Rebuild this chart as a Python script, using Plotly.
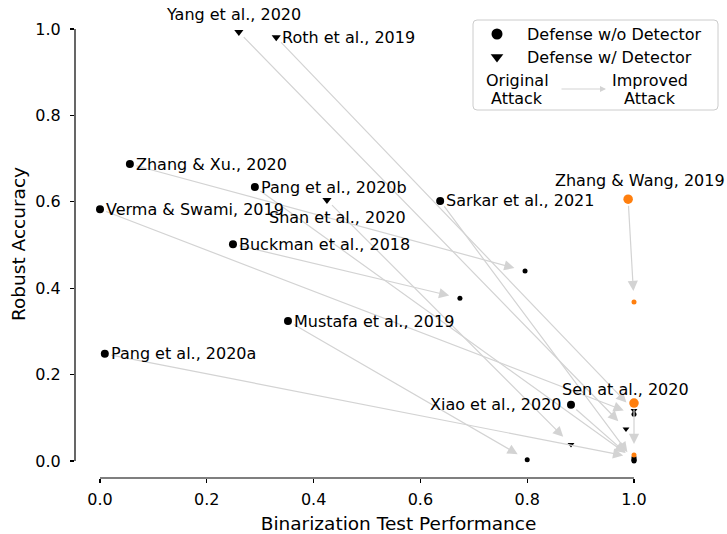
import plotly.graph_objects as go

# ---------------- data ----------------
names = ["Yang et al., 2020", "Roth et al., 2019", "Zhang & Xu., 2020", "Pang et al., 2020b",
         "Verma & Swami, 2019", "Shan et al., 2020", "Sarkar et al., 2021", "Zhang & Wang, 2019",
         "Buckman et al., 2018", "Mustafa et al., 2019", "Pang et al., 2020a", "Xiao et al., 2020",
         "Sen at al., 2020"]
orig_x = [0.260, 0.330, 0.056, 0.290, 0.000, 0.425, 0.637, 0.989, 0.249, 0.352, 0.009, 0.882, 1.000]
orig_y = [0.993, 0.981, 0.6875, 0.634, 0.583, 0.604, 0.602, 0.606, 0.502, 0.324, 0.248, 0.130, 0.134]
imp_x = [0.985, 1.000, 0.796, 1.000, 1.000, 0.882, 1.000, 1.000, 0.674, 0.800, 1.000, 1.000, 1.000]
imp_y = [0.074, 0.117, 0.440, 0.004, 0.108, 0.038, 0.000, 0.368, 0.377, 0.003, 0.008, 0.002, 0.014]
has_detector = [True, True, False, False, False, True, False, False, False, False, False, False, False]
highlight = [False, False, False, False, False, False, False, True, False, False, False, False, True]
tick_vals = [0.0, 0.2, 0.4, 0.6, 0.8, 1.0]
tick_text = ["0.0", "0.2", "0.4", "0.6", "0.8", "1.0"]

# label placement (xanchor, xshift, yshift, yanchor)
label_place = {
    "Yang et al., 2020": ("center", -5, 6, "bottom"),
    "Roth et al., 2019": ("left", 4, 0, "middle"),
    "Shan et al., 2020": ("center", 11, -17, "middle"),
    "Zhang & Wang, 2019": ("center", 12, 19, "middle"),
    "Xiao et al., 2020": ("right", -7, 0, "middle"),
    "Sen at al., 2020": ("center", -9, 14, "middle"),
}

# ---------------- layout geometry ----------------
W, H = 727, 534
L, R, T, B = 75, 722, 10, 478
X0PX, X1PX = 100, 634     # pixel of x=0 and x=1
Y0PX, Y1PX = 461, 29      # pixel of y=0 and y=1
xr = [(L - X0PX) / (X1PX - X0PX), (R - X0PX) / (X1PX - X0PX)]
yr = [(Y0PX - B) / (Y0PX - Y1PX), (Y0PX - T) / (Y0PX - Y1PX)]

BLACK = "black"
ORANGE = "#ff7f0e"
GRAY = "#d3d3d3"
FONT = "DejaVu Sans"

fig = go.Figure()


def add_group(xs, ys, symbol, color, size):
    fig.add_trace(go.Scatter(x=xs, y=ys, mode="markers", cliponaxis=False,
                             marker=dict(symbol=symbol, color=color, size=size,
                                         line=dict(width=0)),
                             showlegend=False, hoverinfo="skip"))


for det, hl in [(False, False), (True, False), (False, True)]:
    idx = [i for i in range(len(names)) if has_detector[i] == det and highlight[i] == hl]
    sym = "triangle-down" if det else "circle"
    col = ORANGE if hl else BLACK
    add_group([orig_x[i] for i in idx], [orig_y[i] for i in idx], sym, col, 8 if not hl else 9.5)
    add_group([imp_x[i] for i in idx], [imp_y[i] for i in idx], sym, col, 5 if not det else 6)

annotations = []
# arrows
for i in range(len(names)):
    annotations.append(dict(x=imp_x[i], y=imp_y[i], ax=orig_x[i], ay=orig_y[i],
                            xref="x", yref="y", axref="x", ayref="y", text="",
                            showarrow=True, arrowhead=2, arrowsize=1.7, arrowwidth=1.2,
                            arrowcolor=GRAY, standoff=11, startstandoff=5))
# labels
for i, n in enumerate(names):
    xa, xs, ys, ya = label_place.get(n, ("left", 4, 0, "middle"))
    annotations.append(dict(x=orig_x[i], y=orig_y[i], xref="x", yref="y", text=n,
                            showarrow=False, xanchor=xa, yanchor=ya, xshift=xs, yshift=ys,
                            font=dict(family=FONT, size=16, color="black")))

# ---------------- custom legend (pixel axes x2/y2) ----------------
fig.add_trace(go.Scatter(x=[497], y=[34], mode="markers", xaxis="x2", yaxis="y2", cliponaxis=False,
                         marker=dict(symbol="circle", color=BLACK, size=11), showlegend=False,
                         hoverinfo="skip"))
fig.add_trace(go.Scatter(x=[497], y=[57], mode="markers", xaxis="x2", yaxis="y2", cliponaxis=False,
                         marker=dict(symbol="triangle-down", color=BLACK, size=11), showlegend=False,
                         hoverinfo="skip"))
leg_font = dict(family=FONT, size=16, color="black")
for txt, x, y, xa in [("Defense w/o Detector", 525, 34, "left"),
                      ("Defense w/ Detector", 525, 57, "left"),
                      ("Original", 517, 80, "center"), ("Attack", 517, 98, "center"),
                      ("Improved", 650, 80, "center"), ("Attack", 650, 98, "center")]:
    annotations.append(dict(x=x, y=y, xref="x2", yref="y2", text=txt, showarrow=False,
                            xanchor=xa, yanchor="middle", font=leg_font))
annotations.append(dict(x=606, y=89, ax=560, ay=89, xref="x2", yref="y2", axref="x2", ayref="y2",
                        text="", showarrow=True, arrowhead=2, arrowsize=1.0, arrowwidth=1.2,
                        arrowcolor=GRAY))

r = 4
x0, y0, x1, y1 = 473, 20, 718, 110
legend_path = (f"M{x0+r},{y0} L{x1-r},{y0} Q{x1},{y0} {x1},{y0+r} L{x1},{y1-r} Q{x1},{y1} {x1-r},{y1} "
               f"L{x0+r},{y1} Q{x0},{y1} {x0},{y1-r} L{x0},{y0+r} Q{x0},{y0} {x0+r},{y0} Z")

shapes = [
    dict(type="path", path=legend_path, xref="x2", yref="y2",
         line=dict(color="#cccccc", width=1), fillcolor="rgba(255,255,255,0.8)", layer="below"),
    # trimmed spines
    dict(type="line", xref="x", yref="paper", x0=0, x1=1, y0=0, y1=0, line=dict(color="black", width=1.2)),
    dict(type="line", xref="paper", yref="y", x0=0, x1=0, y0=0, y1=1, line=dict(color="black", width=1.2)),
]

axis_common = dict(showgrid=False, zeroline=False, showline=False, ticks="outside", ticklen=4,
                   tickwidth=1.2, tickcolor="black", tickvals=tick_vals, ticktext=tick_text,
                   tickfont=dict(family=FONT, size=16, color="black"), automargin=False)

fig.update_layout(
    width=W, height=H,
    margin=dict(l=L, r=W - R, t=T, b=H - B, pad=0),
    paper_bgcolor="white", plot_bgcolor="white",
    xaxis=dict(range=xr, title=dict(text="Binarization Test Performance", standoff=8,
                                    font=dict(family=FONT, size=18.5, color="black")),
               ticklabelstandoff=3, **axis_common),
    yaxis=dict(range=yr, title=dict(text="Robust Accuracy", standoff=4,
                                    font=dict(family=FONT, size=18.5, color="black")),
               ticklabelstandoff=6, **axis_common),
    xaxis2=dict(range=[L, R], overlaying="x", visible=False, fixedrange=True),
    yaxis2=dict(range=[B, T], overlaying="y", visible=False, fixedrange=True),
    annotations=annotations,
    shapes=shapes,
    showlegend=False,
)

fig.write_html("out.html", config={"displayModeBar": False, "staticPlot": True},
               post_script="document.body.style.margin='0';document.body.style.padding='0';")
